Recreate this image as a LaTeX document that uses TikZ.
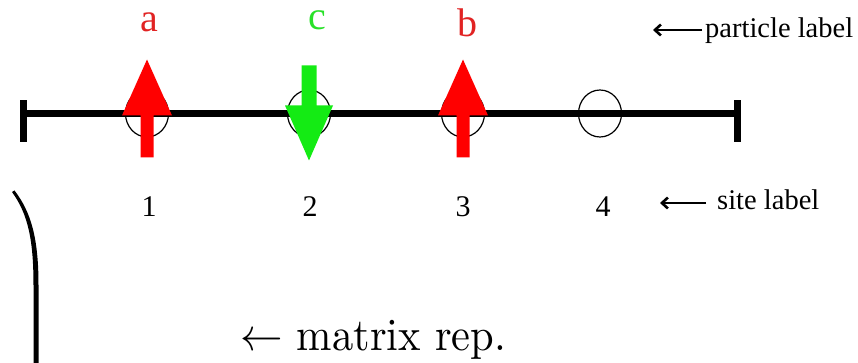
\documentclass[tikz,border=0pt]{standalone}
\usepackage{fontspec}
\newfontfamily\tms{Liberation Serif}
\usetikzlibrary{arrows.meta,shapes.geometric}
\definecolor{spinred}{RGB}{255,0,0}
\definecolor{spingreen}{RGB}{20,235,20}
\definecolor{labred}{RGB}{225,35,35}
\definecolor{labgreen}{RGB}{40,225,40}
\begin{document}
\begin{tikzpicture}[x=1pt,y=-1pt,
  site/.style={draw,ellipse,minimum width=43pt,minimum height=47pt,inner sep=0pt,line width=1.2pt},
  sitenum/.style={anchor=base,inner sep=0pt,font=\tms\fontsize{30}{34}\selectfont},
  partlab/.style={anchor=base,inner sep=0pt,font=\tms\fontsize{40}{44}\selectfont},
  sidelab/.style={anchor=base west,inner sep=0pt,font=\tms\fontsize{28.5}{32}\selectfont},
  labarrow/.style={line width=2.6pt,-{Straight Barb[length=6pt,width=11pt]}},
  upspin/.pic={\fill (0,-54) -- (25,2) -- (6.5,2) -- (6.5,44) -- (-6.5,44) -- (-6.5,2) -- (-25,2) -- cycle;},
  downspin/.pic={\fill (0,47) -- (24,-8) -- (7.5,-8) -- (7.5,-48) -- (-7.5,-48) -- (-7.5,-8) -- (-24,-8) -- cycle;}
]
\useasboundingbox (0,0) rectangle (858,363);
% sites
\node[site] (s1) at (147,113.5) {};
\node[site] (s2) at (309,113.5) {};
\node[site] (s3) at (463,113.5) {};
\node[site] (s4) at (600,113.5) {};
% chain
\coordinate (L) at (23.5,113.5);
\coordinate (R) at (737,113.5);
\draw[line width=7pt] (L) -- (R);
\draw[line width=7pt] ([yshift=-28.5pt]L) -- ([yshift=13.5pt]L);
\draw[line width=7pt] ([yshift=-28.5pt]R) -- ([yshift=13.5pt]R);
% spins
\pic[spinred] at (s1.center) {upspin};
\pic[spingreen] at (s2.center) {downspin};
\pic[spinred] at (s3.center) {upspin};
% particle labels
\node[partlab,text=labred] (pa) at (149,32) {a};
\node[partlab,text=labgreen] (pc) at (317,30) {c};
\node[partlab,text=labred] (pb) at (467,37) {b};
% site labels
\node[sitenum] (n1) at (149,217) {1};
\node[sitenum] (n2) at (310,217) {2};
\node[sitenum] (n3) at (463,217) {3};
\node[sitenum] (n4) at (603,217) {4};
% side labels
\node[sidelab] (plab) at (705,38) {particle label};
\node[sidelab] (slab) at (717,210) {site label};
\coordinate (pend) at (653,30);
\coordinate (send) at (660,203);
\draw[labarrow] (plab.west |- pend) ++(-3,0) -- (pend);
\draw[labarrow] (slab.west |- send) ++(-11,0) -- (send);
% parenthesis
\fill (12,192) .. controls (28,214) and (33.5,240) .. (33.5,285) -- (33.5,363) -- (38.5,363) -- (38.5,285) .. controls (38.5,238) and (31,212) .. (14.5,190.5) -- cycle;
% matrix rep
\node[anchor=base west,inner sep=0pt] (mrep) at (240,350) {\scalebox{4.25}[4.6]{$\leftarrow$ matrix rep.}};
\end{tikzpicture}
\end{document}
